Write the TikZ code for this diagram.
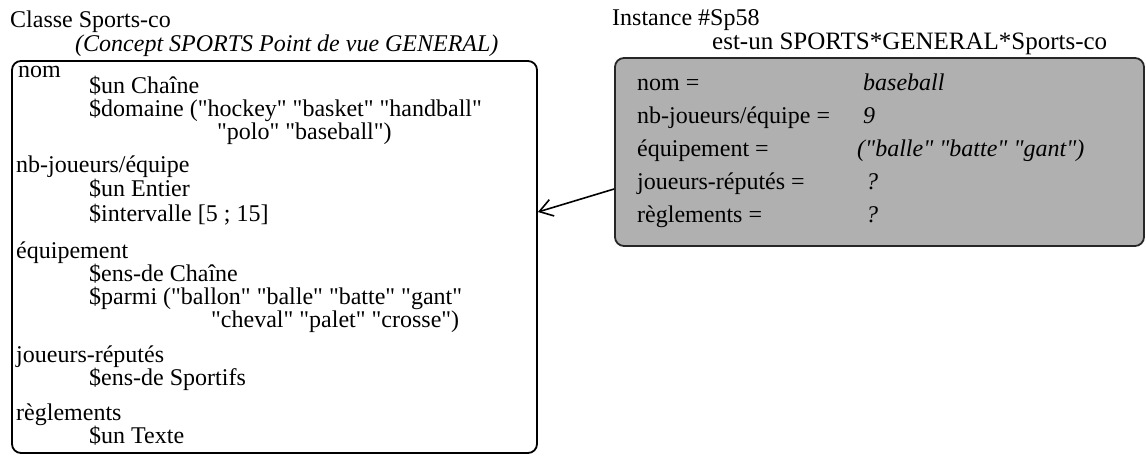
\documentclass[tikz,border=0pt]{standalone}
\usepackage{fontspec}
\setmainfont{Liberation Serif}[Ligatures=TeXOff]
\usetikzlibrary{arrows.meta}
\begin{document}
\begin{tikzpicture}[x=1pt,y=-1pt,
  txt/.style={anchor=base west, inner sep=0pt, font=\fontsize{24}{28}\selectfont},
  itx/.style={anchor=base west, inner sep=0pt, font=\fontsize{24}{28}\selectfont\itshape},
  framebox/.style={draw, line width=1.8pt, rounded corners=9pt, inner sep=0pt},
  link/.style={line width=1.6pt, -{Straight Barb[length=13pt,width=17pt,line width=1.6pt]}},
]
\useasboundingbox (0,0) rectangle (1146,456);

% class frame
\node[framebox, minimum width=525pt, minimum height=392pt] (cls) at (274.5,257) {};
\node[txt] (clsname) at (10,27) {Classe Sports-co};
\node[itx] (clsconcept) at (75,51) {(Concept SPORTS Point de vue GENERAL)};

\node[txt] (s1) at (18,77) {nom};
\node[txt] (s1a) at (89,93) {\$un Chaîne};
\node[txt] (s1b) at (89,116) {\$domaine ("hockey" "basket" "handball"};
\node[txt] (s1c) at (217,139) {"polo" "baseball")};

\node[txt] (s2) at (16,172) {nb-joueurs/équipe};
\node[txt] (s2a) at (89,196) {\$un Entier};
\node[txt] (s2b) at (89,221) {\$intervalle [5 ; 15]};

\node[txt] (s3) at (16,258) {équipement};
\node[txt] (s3a) at (89,281) {\$ens-de Chaîne};
\node[txt] (s3b) at (89,304) {\$parmi ("ballon" "balle" "batte" "gant"};
\node[txt] (s3c) at (211,327) {"cheval" "palet" "crosse")};

\node[txt] (s4) at (16,362) {joueurs-réputés};
\node[txt] (s4a) at (89,385) {\$ens-de Sportifs};

\node[txt] (s5) at (16,420) {règlements};
\node[txt] (s5a) at (89,443) {\$un Texte};

% instance frame
\node[framebox, fill=black!31, draw=black!85, minimum width=529pt, minimum height=188pt] (inst) at (879.5,152) {};
\node[txt] (instname) at (612,25) {Instance \#Sp58};
\node[txt, font=\fontsize{25}{28}\selectfont] (instclass) at (712,49) {est-un SPORTS*GENERAL*Sports-co};

\node[txt] (v1) at (637,90) {nom =};
\node[itx] (w1) at (863,90) {baseball};
\node[txt] (v2) at (637,123) {nb-joueurs/équipe =};
\node[itx] (w2) at (863,123) {9};
\node[txt] (v3) at (637,156) {équipement =};
\node[itx] (w3) at (857,156) {("balle" "batte" "gant")};
\node[txt] (v4) at (637,189) {joueurs-réputés =};
\node[itx] (w4) at (866,189) {?};
\node[txt] (v5) at (637,222) {règlements =};
\node[itx] (w5) at (866,222) {?};

% instance-of link
\draw[link] ([yshift=-37pt]inst.west) -- ([yshift=45pt]cls.east);
\end{tikzpicture}
\end{document}
